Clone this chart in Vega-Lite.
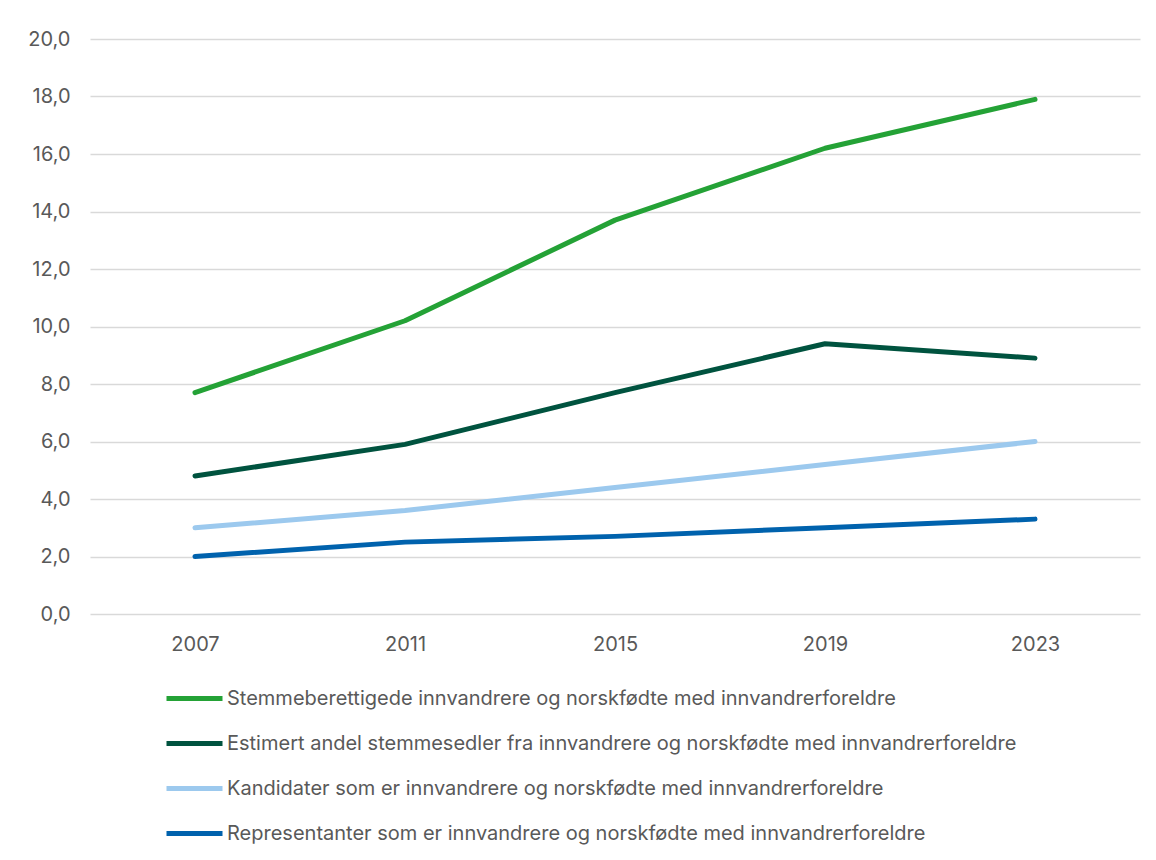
{
  "$schema": "https://vega.github.io/schema/vega-lite/v6.json",
  "width": 1050,
  "height": 575,
  "autosize": "none",
  "padding": {"left": 90, "top": 39, "right": 16, "bottom": 246},
  "background": "white",
  "config": {
    "locale": {"number": {"decimal": ",", "thousands": " ", "grouping": [3], "currency": ["", " kr"]}},
    "view": {"stroke": null},
    "font": "Inter"
  },
  "data": {
    "values": [
      {"year": "2007", "series": "Stemmeberettigede innvandrere og norskfødte med innvandrerforeldre", "value": 7.7},
      {"year": "2011", "series": "Stemmeberettigede innvandrere og norskfødte med innvandrerforeldre", "value": 10.2},
      {"year": "2015", "series": "Stemmeberettigede innvandrere og norskfødte med innvandrerforeldre", "value": 13.7},
      {"year": "2019", "series": "Stemmeberettigede innvandrere og norskfødte med innvandrerforeldre", "value": 16.2},
      {"year": "2023", "series": "Stemmeberettigede innvandrere og norskfødte med innvandrerforeldre", "value": 17.9},
      {"year": "2007", "series": "Estimert andel stemmesedler fra innvandrere og norskfødte med innvandrerforeldre", "value": 4.8},
      {"year": "2011", "series": "Estimert andel stemmesedler fra innvandrere og norskfødte med innvandrerforeldre", "value": 5.9},
      {"year": "2015", "series": "Estimert andel stemmesedler fra innvandrere og norskfødte med innvandrerforeldre", "value": 7.7},
      {"year": "2019", "series": "Estimert andel stemmesedler fra innvandrere og norskfødte med innvandrerforeldre", "value": 9.4},
      {"year": "2023", "series": "Estimert andel stemmesedler fra innvandrere og norskfødte med innvandrerforeldre", "value": 8.9},
      {"year": "2007", "series": "Kandidater som er innvandrere og norskfødte med innvandrerforeldre", "value": 3.0},
      {"year": "2011", "series": "Kandidater som er innvandrere og norskfødte med innvandrerforeldre", "value": 3.6},
      {"year": "2015", "series": "Kandidater som er innvandrere og norskfødte med innvandrerforeldre", "value": 4.4},
      {"year": "2019", "series": "Kandidater som er innvandrere og norskfødte med innvandrerforeldre", "value": 5.2},
      {"year": "2023", "series": "Kandidater som er innvandrere og norskfødte med innvandrerforeldre", "value": 6.0},
      {"year": "2007", "series": "Representanter som er innvandrere og norskfødte med innvandrerforeldre", "value": 2.0},
      {"year": "2011", "series": "Representanter som er innvandrere og norskfødte med innvandrerforeldre", "value": 2.5},
      {"year": "2015", "series": "Representanter som er innvandrere og norskfødte med innvandrerforeldre", "value": 2.7},
      {"year": "2019", "series": "Representanter som er innvandrere og norskfødte med innvandrerforeldre", "value": 3.0},
      {"year": "2023", "series": "Representanter som er innvandrere og norskfødte med innvandrerforeldre", "value": 3.3}
    ]
  },
  "mark": {"type": "line", "strokeWidth": 5, "strokeCap": "round", "strokeJoin": "round"},
  "encoding": {
    "x": {
      "field": "year", "type": "ordinal", "title": null,
      "scale": {"type": "point", "padding": 0.5},
      "axis": {"labelAngle": 0, "domain": false, "ticks": false, "grid": false, "labelFontSize": 20, "labelColor": "#595959", "labelPadding": 20}
    },
    "y": {
      "field": "value", "type": "quantitative", "title": null,
      "scale": {"domain": [0, 20], "nice": false},
      "axis": {"values": [0, 2, 4, 6, 8, 10, 12, 14, 16, 18, 20], "format": ".1f", "domain": false, "ticks": false, "gridColor": "#d9d9d9", "gridWidth": 1.5, "labelFontSize": 20, "labelColor": "#595959", "labelPadding": 20}
    },
    "color": {
      "field": "series", "type": "nominal", "title": null,
      "sort": ["Stemmeberettigede innvandrere og norskfødte med innvandrerforeldre", "Estimert andel stemmesedler fra innvandrere og norskfødte med innvandrerforeldre", "Kandidater som er innvandrere og norskfødte med innvandrerforeldre", "Representanter som er innvandrere og norskfødte med innvandrerforeldre"],
      "scale": {"range": ["#24A236", "#00533F", "#9CC9EE", "#0062AD"]},
      "legend": {
        "orient": "none", "legendX": 74, "legendY": 629,
        "direction": "vertical",
        "symbolType": "stroke", "symbolStrokeWidth": 5, "symbolSize": 3136,
        "labelFontSize": 20, "labelColor": "#595959", "labelLimit": 1000, "labelOffset": 2,
        "rowPadding": 4
      }
    }
  }
}
